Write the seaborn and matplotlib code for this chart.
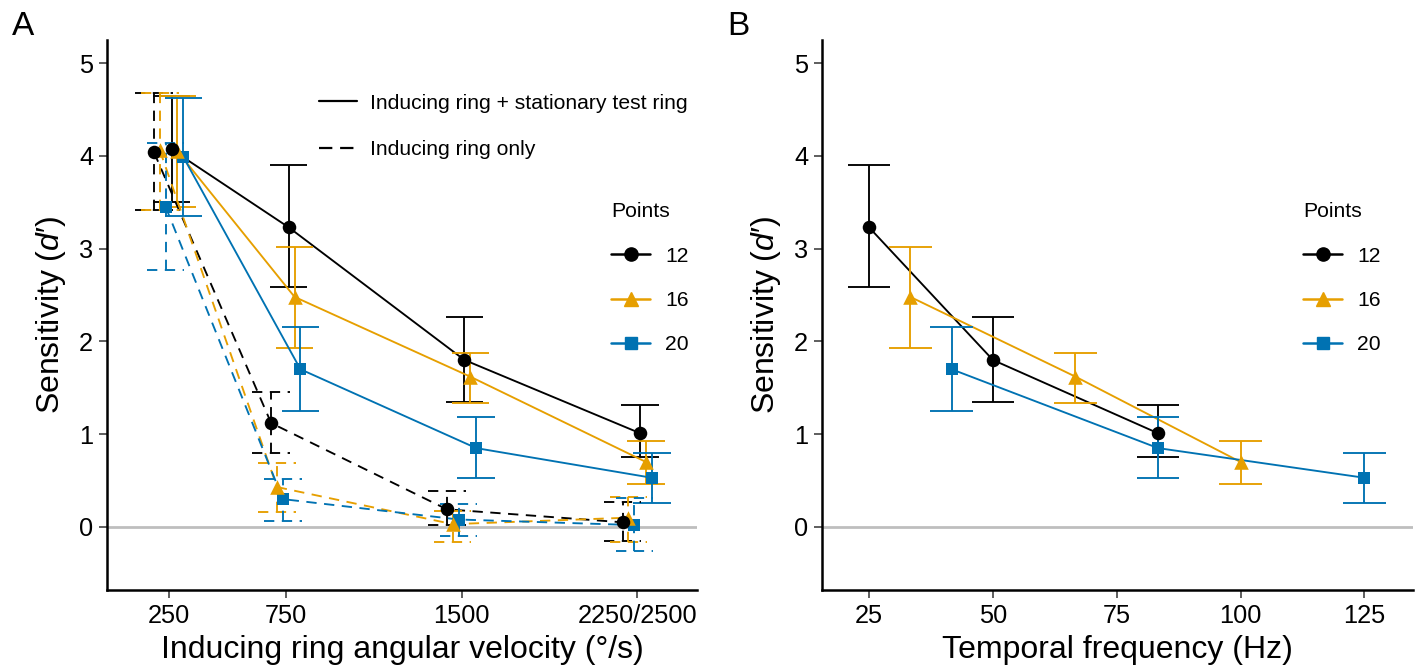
import numpy as np
import pandas as pd
import matplotlib
matplotlib.use("Agg")
import matplotlib.pyplot as plt
import seaborn as sns
from matplotlib.lines import Line2D

sns.set_theme(style="ticks")
plt.rcParams["font.family"] = ["Liberation Sans", "DejaVu Sans"]
plt.rcParams["mathtext.fontset"] = "custom"
plt.rcParams["mathtext.rm"] = "Liberation Sans"
plt.rcParams["mathtext.it"] = "Liberation Sans:italic"
for k in ("text.color", "axes.labelcolor", "xtick.labelcolor", "ytick.labelcolor"):
    plt.rcParams[k] = "black"

# ---------------- data ----------------
points = [12, 16, 20]
velocity = [250, 750, 1500, 2250]
velocity_labels = ["250", "750", "1500", "2250/2500"]

# Inducing ring + stationary test ring (solid)
stat_12 = [4.07, 3.23, 1.80, 1.01]
stat_12_lo = [3.50, 2.59, 1.35, 0.75]
stat_12_hi = [4.65, 3.90, 2.26, 1.31]
stat_16 = [4.05, 2.48, 1.62, 0.70]
stat_16_lo = [3.45, 1.93, 1.34, 0.46]
stat_16_hi = [4.65, 3.02, 1.87, 0.93]
stat_20 = [3.99, 1.70, 0.85, 0.53]
stat_20_lo = [3.35, 1.25, 0.53, 0.26]
stat_20_hi = [4.62, 2.16, 1.18, 0.80]

# Inducing ring only (dashed)
only_12 = [4.04, 1.12, 0.19, 0.05]
only_12_lo = [3.42, 0.80, 0.02, -0.15]
only_12_hi = [4.68, 1.46, 0.39, 0.27]
only_16 = [4.06, 0.43, 0.03, 0.10]
only_16_lo = [3.42, 0.16, -0.16, -0.16]
only_16_hi = [4.68, 0.69, 0.17, 0.32]
only_20 = [3.45, 0.30, 0.08, 0.02]
only_20_lo = [2.77, 0.06, -0.10, -0.26]
only_20_hi = [4.14, 0.52, 0.25, 0.31]

# Panel B: temporal frequency (Hz) for the stationary-test-ring condition
tf_12 = [25.0, 50.0, 83.33]
tf_16 = [33.33, 66.67, 100.0]
tf_20 = [41.67, 83.33, 125.0]
tf_ticks = [25, 50, 75, 100, 125]

cond_labels = ["Inducing ring + stationary test ring", "Inducing ring only"]

# ---------------- styling ----------------
palette = {12: "#000000", 16: "#E69F00", 20: "#0072B2"}
markers = {12: "o", 16: "^", 20: "s"}
msize = {12: 95, 16: 110, 20: 85}
mz = {12: 5, 16: 4, 20: 3}
dash_pat = (0, (5.5, 4))
LW = 1.35

rows = []
stat = {12: (stat_12, stat_12_lo, stat_12_hi), 16: (stat_16, stat_16_lo, stat_16_hi),
        20: (stat_20, stat_20_lo, stat_20_hi)}
only = {12: (only_12, only_12_lo, only_12_hi), 16: (only_16, only_16_lo, only_16_hi),
        20: (only_20, only_20_lo, only_20_hi)}
for cond, src in ((cond_labels[0], stat), (cond_labels[1], only)):
    for p in points:
        d, lo, hi = src[p]
        for v, a, b, c in zip(velocity, d, lo, hi):
            rows.append(dict(cond=cond, points=p, velocity=v, d=a, lo=b, hi=c))
dfA = pd.DataFrame(rows)

# dodge offsets (data units): dashed 12,16,20 then solid 12,16,20
dodge_step = 25.0
order = [(cond_labels[1], 12), (cond_labels[1], 16), (cond_labels[1], 20),
         (cond_labels[0], 12), (cond_labels[0], 16), (cond_labels[0], 20)]
offs = {k: (i - 2.5) * dodge_step for i, k in enumerate(order)}
dfA["x"] = dfA["velocity"] + [offs[(c, p)] for c, p in zip(dfA["cond"], dfA["points"])]

rowsB = []
for p, tfs in ((12, tf_12), (16, tf_16), (20, tf_20)):
    d, lo, hi = stat[p]
    for t, a, b, c in zip(tfs, d[1:], lo[1:], hi[1:]):
        rowsB.append(dict(points=p, x=t, d=a, lo=b, hi=c))
dfB = pd.DataFrame(rowsB)

fig = plt.figure(figsize=(14.21, 6.68), dpi=100)
axA = fig.add_axes([107 / 1421, 78 / 668, 590 / 1421, 550 / 668])
axB = fig.add_axes([822 / 1421, 78 / 668, 591 / 1421, 550 / 668])


def draw(ax, df, ls, capw):
    for p in points:
        sub = df[df["points"] == p].sort_values("x")
        col = palette[p]
        ax.vlines(sub["x"], sub["lo"], sub["hi"], colors=col, linestyles=ls, lw=LW, zorder=2)
        for yy in ("lo", "hi"):
            ax.hlines(sub[yy], sub["x"] - capw, sub["x"] + capw, colors=col,
                      linestyles=ls, lw=LW, zorder=2)
        n0 = len(ax.lines)
        sns.lineplot(data=sub, x="x", y="d", color=col, lw=LW, estimator=None,
                     sort=True, legend=False, ax=ax, zorder=2)
        for ln in ax.lines[n0:]:
            ln.set_linestyle(ls)
        sns.scatterplot(data=sub, x="x", y="d", color=col, marker=markers[p], s=msize[p],
                        edgecolor=col, linewidth=0, legend=False, ax=ax, zorder=mz[p])


for ax in (axA, axB):
    ax.axhline(0, color="#BEBEBE", lw=2, zorder=1)

draw(axA, dfA[dfA["cond"] == cond_labels[0]], "-", 80)
draw(axA, dfA[dfA["cond"] == cond_labels[1]], dash_pat, 80)
draw(axB, dfB, "-", 4.3)

axA.set_xlim(-13, 2505)
axB.set_xlim(15.5, 134.8)
for ax in (axA, axB):
    ax.set_ylim(-0.68, 5.25)
    ax.set_yticks([0, 1, 2, 3, 4, 5])
    sns.despine(ax=ax)
    for s in ("left", "bottom"):
        ax.spines[s].set_linewidth(1.8)
        ax.spines[s].set_color("black")
    ax.tick_params(axis="both", labelsize=18.3, length=6, width=1.1, color="#333333",
                   labelcolor="black", pad=4)
    ax.set_ylabel("Sensitivity ($d$\u2032)", fontsize=23, labelpad=8)
    ax.grid(False)

axA.set_xticks(velocity)
axA.set_xticklabels(velocity_labels)
axA.set_xlabel("Inducing ring angular velocity (°/s)", fontsize=23, labelpad=5)
axB.set_xticks(tf_ticks)
axB.set_xticklabels([str(t) for t in tf_ticks])
axB.set_xlabel("Temporal frequency (Hz)", fontsize=23, labelpad=5)

# legends
lt_handles = [Line2D([], [], color="black", lw=1.6, ls="-"),
              Line2D([], [], color="black", lw=1.6, ls=(0, (6, 3.5)))]
legL = axA.legend(lt_handles, cond_labels, loc="upper left", bbox_to_anchor=(0.345, 0.918),
                  frameon=False, fontsize=15.2, handlelength=1.8, handletextpad=0.6,
                  labelspacing=1.3, borderaxespad=0.0)
axA.add_artist(legL)


def pts_legend(ax, x0):
    hs = [Line2D([], [], color=palette[p], marker=markers[p], lw=1.8,
                 markersize=9.5 if p != 20 else 8.5) for p in points]
    lg = ax.legend(hs, [str(p) for p in points], title="Points", loc="upper left",
                   bbox_to_anchor=(x0, 0.72), frameon=False, fontsize=15.2,
                   title_fontsize=15.2, handlelength=1.85, handletextpad=0.7,
                   labelspacing=1.2, borderaxespad=0.0)
    lg._legend_box.align = "left"
    return lg


pts_legend(axA, 0.84)
pts_legend(axB, 0.80)

fig.text(12 / 1421, 1 - 35 / 668, "A", fontsize=24)
fig.text(727 / 1421, 1 - 35 / 668, "B", fontsize=24)

fig.savefig("out.png", dpi=100)
